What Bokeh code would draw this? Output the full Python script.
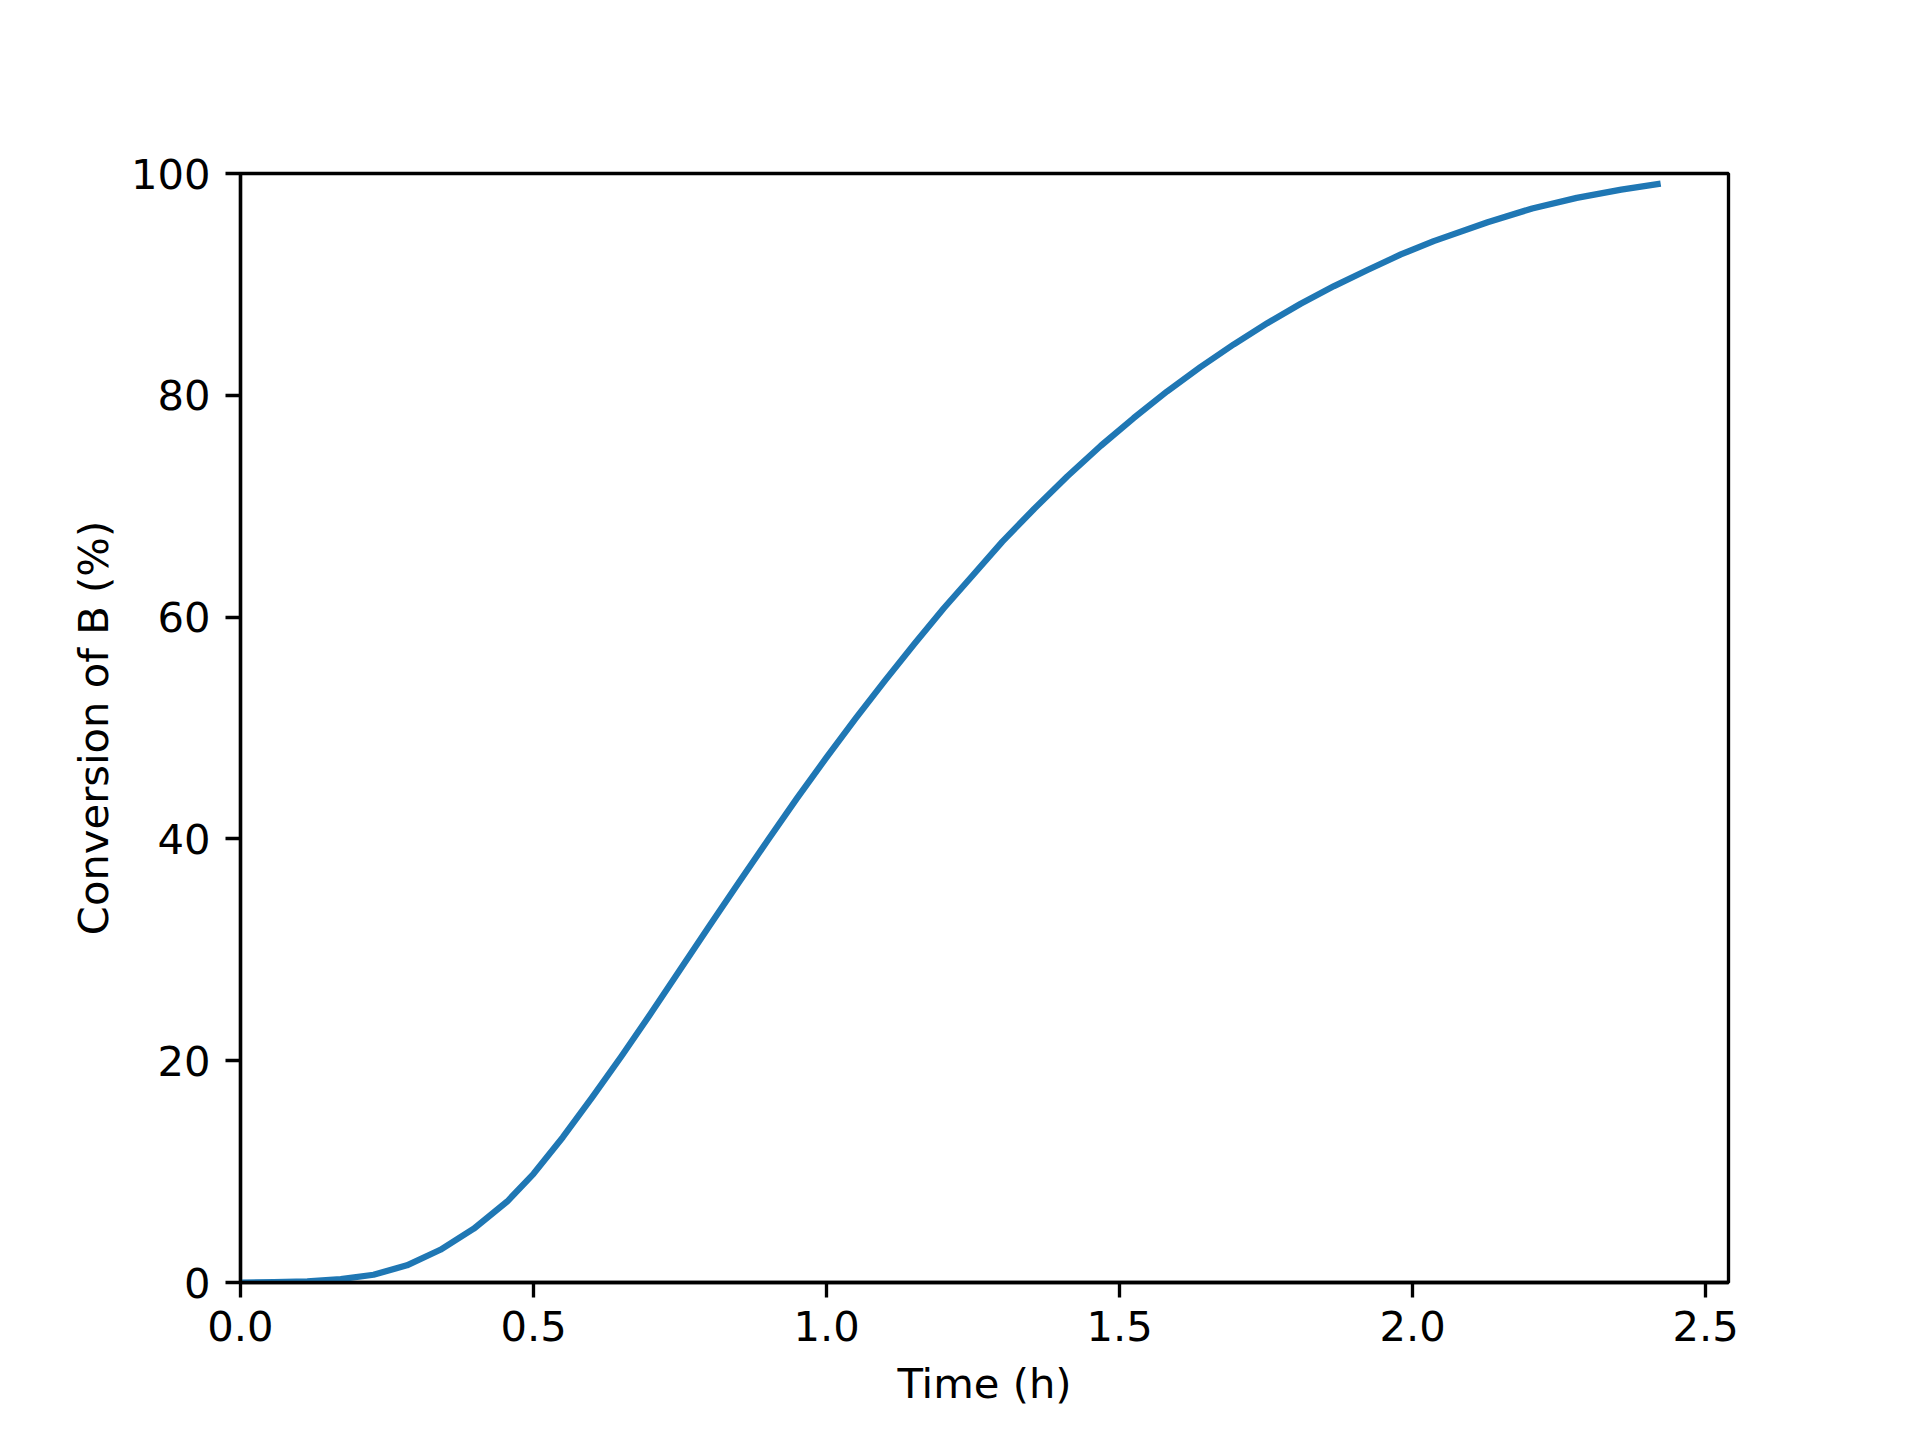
from bokeh.plotting import figure
from bokeh.models import Range1d, SingleIntervalTicker, PrintfTickFormatter
from bokeh.embed import file_html
from bokeh.resources import INLINE

# Data (time in hours, conversion of B in %)
time_h = [0.000, 0.057, 0.114, 0.171, 0.227, 0.284, 0.341, 0.398, 0.455,
          0.500, 0.550, 0.600, 0.650, 0.700, 0.750, 0.800, 0.850, 0.900,
          0.950, 1.000, 1.050, 1.100, 1.150, 1.200, 1.250, 1.300, 1.354,
          1.411, 1.468, 1.524, 1.581, 1.638, 1.695, 1.752, 1.809, 1.866,
          1.923, 1.980, 2.036, 2.128, 2.204, 2.280, 2.356, 2.418]
conversion_b = [0.0, 0.03, 0.1, 0.3, 0.7, 1.55, 2.95, 4.85, 7.3,
                9.8, 13.1, 16.7, 20.4, 24.25, 28.2, 32.15, 36.05, 39.9,
                43.7, 47.35, 50.9, 54.3, 57.6, 60.8, 63.8, 66.8, 69.75,
                72.7, 75.45, 77.95, 80.35, 82.55, 84.6, 86.5, 88.25, 89.85,
                91.3, 92.7, 93.9, 95.6, 96.85, 97.8, 98.55, 99.05]

x_label = "Time (h)"
y_label = "Conversion of B (%)"

FONT = "DejaVu Sans"
FS = "41.7px"
LW = 3.33

p = figure(width=1904, height=1424, output_backend="svg", toolbar_location=None,
           x_range=Range1d(0, 2.539), y_range=Range1d(0, 100),
           min_border_left=240, min_border_right=176,
           min_border_top=173, min_border_bottom=142)

p.line(time_h, conversion_b, line_width=6.25, line_color="#1f77b4",
       line_cap="square", line_join="round")

p.grid.visible = False
p.background_fill_color = "white"
p.border_fill_color = "white"
p.outline_line_color = "black"
p.outline_line_width = LW
p.outline_line_alpha = 1.0

p.xaxis.ticker = SingleIntervalTicker(interval=0.5, num_minor_ticks=0)
p.yaxis.ticker = SingleIntervalTicker(interval=20, num_minor_ticks=0)
p.xaxis.formatter = PrintfTickFormatter(format="%.1f")
p.yaxis.formatter = PrintfTickFormatter(format="%d")

for ax in (p.xaxis, p.yaxis):
    ax.axis_line_width = LW
    ax.axis_line_color = "black"
    ax.major_tick_line_width = LW
    ax.major_tick_line_color = "black"
    ax.major_tick_in = 0
    ax.major_tick_out = 15
    ax.minor_tick_line_color = None
    ax.major_label_text_font = FONT
    ax.major_label_text_font_size = FS
    ax.major_label_text_color = "black"
    ax.axis_label_text_font = FONT
    ax.axis_label_text_font_size = FS
    ax.axis_label_text_font_style = "normal"
    ax.axis_label_text_color = "black"

p.xaxis.major_label_standoff = 13
p.yaxis.major_label_standoff = 15
p.xaxis.axis_label = x_label
p.yaxis.axis_label = y_label
p.xaxis.axis_label_standoff = 15
p.yaxis.axis_label_standoff = 10

open("out.html", "w").write(file_html(p, INLINE))
